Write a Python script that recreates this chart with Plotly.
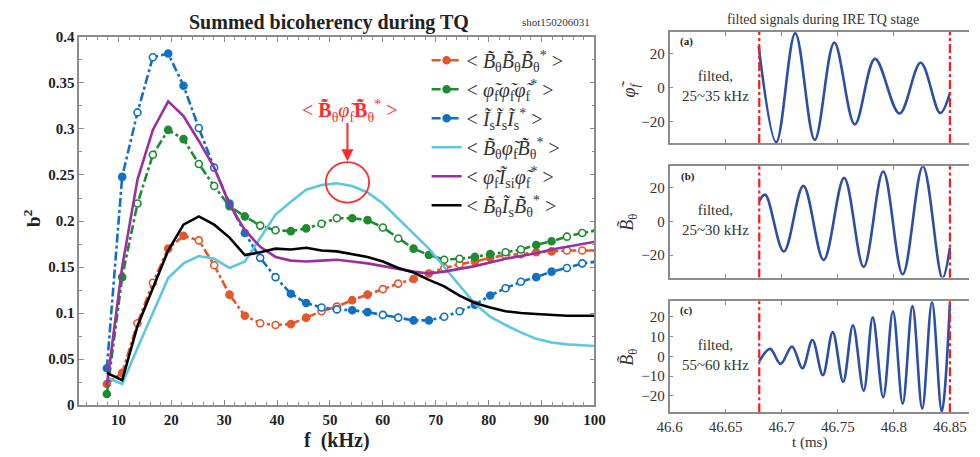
import plotly.graph_objects as go

# ---------------- data: summed bicoherency ----------------
freq = [7.8, 10.7, 13.6, 16.5, 19.4, 22.3, 25.2, 28.1, 31.0, 33.9, 36.8, 39.7, 42.6,
        45.5, 48.4, 51.3, 54.2, 57.1, 60.0, 62.9, 65.8, 68.7, 71.6, 74.5, 77.4,
        80.3, 83.2, 86.1, 89.0, 91.9, 94.8, 97.7, 100.6]
b_BBB = [0.023, 0.035, 0.089, 0.133, 0.170, 0.184, 0.179, 0.152, 0.120, 0.097, 0.089,
         0.087, 0.088, 0.095, 0.102, 0.107, 0.114, 0.120, 0.126, 0.132, 0.137, 0.143,
         0.149, 0.153, 0.156, 0.160, 0.163, 0.164, 0.166, 0.167, 0.168, 0.168, 0.168]
b_PPP = [0.012, 0.139, 0.219, 0.272, 0.299, 0.289, 0.262, 0.238, 0.216, 0.205, 0.195,
         0.190, 0.189, 0.192, 0.197, 0.203, 0.203, 0.201, 0.193, 0.181, 0.170, 0.163,
         0.158, 0.159, 0.161, 0.164, 0.166, 0.169, 0.174, 0.178, 0.183, 0.187, 0.190]
b_III = [0.040, 0.248, 0.318, 0.378, 0.382, 0.347, 0.301, 0.258, 0.219, 0.187, 0.160,
         0.139, 0.121, 0.111, 0.106, 0.104, 0.103, 0.101, 0.098, 0.095, 0.092, 0.092,
         0.096, 0.102, 0.109, 0.119, 0.127, 0.134, 0.139, 0.145, 0.149, 0.154, 0.156]
b_BPB = [0.030, 0.023, 0.062, 0.100, 0.138, 0.154, 0.162, 0.159, 0.149, 0.156, 0.182,
         0.207, 0.221, 0.234, 0.239, 0.241, 0.238, 0.231, 0.219, 0.203, 0.187, 0.170,
         0.150, 0.130, 0.110, 0.096, 0.087, 0.079, 0.072, 0.068, 0.066, 0.065, 0.064]
b_PIP = [0.021, 0.150, 0.245, 0.299, 0.330, 0.314, 0.287, 0.258, 0.218, 0.190, 0.172,
         0.161, 0.157, 0.156, 0.157, 0.158, 0.156, 0.154, 0.151, 0.148, 0.145, 0.143,
         0.145, 0.148, 0.151, 0.155, 0.159, 0.162, 0.165, 0.169, 0.172, 0.175, 0.178]
b_BIB = [0.035, 0.027, 0.086, 0.128, 0.168, 0.196, 0.205, 0.196, 0.182, 0.163, 0.166,
         0.170, 0.169, 0.171, 0.168, 0.167, 0.164, 0.161, 0.156, 0.149, 0.144, 0.136,
         0.129, 0.119, 0.111, 0.106, 0.102, 0.100, 0.099, 0.098, 0.097, 0.097, 0.097]

BD = "B\u0303\u0307"   # B with tilde and dot
PH = "\u03c6\u0303"    # phi tilde
IT = "I\u0303"         # I tilde
names = [
    f"< <i>{BD}</i><sub>θ</sub><i>{BD}</i><sub>θ</sub><i>{BD}</i><sub>θ</sub><sup>*</sup> >",
    f"< <i>{PH}</i><sub>f</sub><i>{PH}</i><sub>f</sub><i>{PH}</i><sub>f</sub><sup>*</sup> >",
    f"< <i>{IT}</i><sub>s</sub><i>{IT}</i><sub>s</sub><i>{IT}</i><sub>s</sub><sup>*</sup> >",
    f"< <i>{BD}</i><sub>θ</sub><i>{PH}</i><sub>f</sub><i>{BD}</i><sub>θ</sub><sup>*</sup> >",
    f"< <i>{PH}</i><sub>f</sub><i>{IT}</i><sub>si</sub><i>{PH}</i><sub>f</sub><sup>*</sup> >",
    f"< <i>{BD}</i><sub>θ</sub><i>{IT}</i><sub>s</sub><i>{BD}</i><sub>θ</sub><sup>*</sup> >",
]

# ---------------- data: filtered signals ----------------
tq_lines = [46.68, 46.85]
a_t = [46.6795, 46.6952, 46.7121, 46.7295, 46.7469, 46.7652, 46.7832, 46.8050, 46.8239, 46.8413, 46.8500]
a_v = [24.5, -32.0, 32.1, -30.6, 26.5, -21.5, 17.0, -15.1, 14.7, -14.9, -3.2]
b_t = [46.6800, 46.6853, 46.7019, 46.7193, 46.7374, 46.7557, 46.7731, 46.7905, 46.8079, 46.8259, 46.8433, 46.8500]
b_v = [12.0, 15.8, -17.9, 21.0, -22.9, 25.7, -27.0, 29.5, -31.4, 32.6, -33.7, -15.6]
c_t = [46.6800, 46.6897, 46.6990, 46.7092, 46.7185, 46.7274, 46.7367, 46.7455, 46.7548, 46.7635,
       46.7731, 46.7812, 46.7905, 46.7992, 46.8079, 46.8166, 46.8253, 46.8340, 46.8427, 46.8500]
c_v = [-2.5, 3.8, -3.8, 5.0, -6.0, 8.3, -9.6, 12.3, -12.9, 15.7, -17.5, 19.8, -20.7, 22.9,
       -24.0, 25.5, -26.5, 27.5, -28.0, 27.0]

SERIF = "Liberation Serif"
W, H = 980, 457

fig = go.Figure()

def mcolors(col, n):
    return [col if (i // 2) % 2 == 0 else "white" for i in range(n)]

marker_series = [(b_BBB, "#E2572B", names[0]), (b_PPP, "#1E8A32", names[1]), (b_III, "#1170C4", names[2])]
for vals, col, nm in marker_series:
    fig.add_trace(go.Scatter(
        x=freq, y=vals, name=nm, mode="lines+markers",
        line=dict(color=col, width=2.6, dash="dashdot"),
        marker=dict(size=7, color=mcolors(col, len(freq)), line=dict(color=col, width=1.6)),
        xaxis="x", yaxis="y"))

line_series = [(b_BPB, "#5CC7DE", names[3]), (b_PIP, "#9A2F9E", names[4]), (b_BIB, "#000000", names[5])]
for vals, col, nm in line_series:
    fig.add_trace(go.Scatter(
        x=freq, y=vals, name=nm, mode="lines",
        line=dict(color=col, width=2.6),
        xaxis="x", yaxis="y"))

wave_col = "#2D4EA6"
for t, v, xa, ya in [(a_t, a_v, "x2", "y2"), (b_t, b_v, "x3", "y3"), (c_t, c_v, "x4", "y4")]:
    fig.add_trace(go.Scatter(x=t, y=v, mode="lines", showlegend=False,
                             line=dict(color=wave_col, width=2.6, shape="spline", smoothing=1.0),
                             xaxis=xa, yaxis=ya))

def px2x(p):
    return p / W

def py2y(p):
    return 1 - p / H

frame = "#8c8c8c"
tickfont_left = dict(family=SERIF, size=15, color="#222", weight="bold")
layout = dict(
    width=W, height=H, margin=dict(l=0, r=0, t=0, b=0),
    paper_bgcolor="white", plot_bgcolor="white",
    showlegend=True,
    legend=dict(x=px2x(424), y=py2y(34), xanchor="left", yanchor="top",
                font=dict(family=SERIF, size=20, color="#333"),
                bgcolor="rgba(0,0,0,0)", itemwidth=30, tracegroupgap=0),
    xaxis=dict(domain=[px2x(68), px2x(596)], range=[2.6, 100], dtick=10, tick0=0,
               showline=True, linecolor=frame, linewidth=1.5, mirror="ticks",
               ticks="inside", ticklen=5, tickcolor=frame, showgrid=False, zeroline=False,
               tickfont=tickfont_left,
               minor=dict(dtick=2, ticks="inside", ticklen=3, tickcolor=frame),
               anchor="y"),
    yaxis=dict(domain=[py2y(411.5), py2y(30)], range=[0, 0.4], dtick=0.05, tick0=0,
               showline=True, linecolor=frame, linewidth=1.5, mirror="ticks",
               ticks="inside", ticklen=5, tickcolor=frame, showgrid=False, zeroline=False,
               tickfont=tickfont_left,
               minor=dict(dtick=0.025, ticks="inside", ticklen=3, tickcolor=frame),
               anchor="x"),
)

panels = [("x2", "y2", 25, 140, [-32.5, 32.7], 20, False),
          ("x3", "y3", 164, 279.3, [-33.3, 32.6], 20, False),
          ("x4", "y4", 304, 419, [-28.4, 27.9], 10, True)]
rfont = dict(family=SERIF, size=15, color="#333")
for xa, ya, top, bot, yr, dt, showx in panels:
    xk = "xaxis" + xa[1:]
    yk = "yaxis" + ya[1:]
    layout[xk] = dict(domain=[px2x(673), 1.0], range=[46.6, 46.867], dtick=0.05, tick0=46.6,
                      showline=True, linecolor=frame, linewidth=1.5, mirror="ticks",
                      ticks="inside", ticklen=4, tickcolor=frame, showgrid=False, zeroline=False,
                      showticklabels=showx, tickfont=rfont, anchor=ya)
    layout[yk] = dict(domain=[py2y(bot), py2y(top)], range=yr, dtick=dt, tick0=0,
                      showline=True, linecolor=frame, linewidth=1.5,
                      ticks="inside", ticklen=4, tickcolor=frame, showgrid=False, zeroline=False,
                      tickfont=rfont, anchor=xa)

fig.update_layout(**layout)

shapes = []
for xa, ya, *_ in panels:
    for tl in tq_lines:
        shapes.append(dict(type="line", xref=xa, yref=ya + " domain", x0=tl, x1=tl, y0=0, y1=1,
                           line=dict(color="#FF1A1A", width=2.2, dash="dashdot")))
# red circle highlighting the peak
shapes.append(dict(type="circle", xref="x", yref="y", x0=49.2, x1=57.4, y0=0.220, y1=0.264,
                   line=dict(color="#FF2A2A", width=1.8)))
fig.update_layout(shapes=shapes)

ann = []
def A(text, x, y, size, color="#222", bold=False, angle=0, xanchor="center", align="center", italic=False):
    t = text
    if italic:
        t = f"<i>{t}</i>"
    ann.append(dict(text=t, x=px2x(x), y=py2y(y), xref="paper", yref="paper", showarrow=False,
                    xanchor=xanchor, yanchor="middle", align=align, textangle=angle,
                    font=dict(family=SERIF, size=size, color=color, weight="bold" if bold else "normal")))

A("Summed bicoherency during TQ", 324, 15, 20, bold=True)
A("shot150206031", 557, 15, 11, color="#333")
A("f  (kHz)", 332, 448, 20, bold=True)
A("b<sup>2</sup>", 20, 218, 19, bold=True, angle=-90)
A("filted signals during IRE TQ stage", 830, 12, 14, color="#333")
A("t (ms)", 817, 450, 15, color="#333")
A("(a)", 690, 35, 11, bold=True)
A("(b)", 692, 175, 11, bold=True)
A("(c)", 690, 313, 11, bold=True)
A("filted,<br>25~35 kHz", 720, 81, 15, color="#333")
A("filted,<br>25~30 kHz", 720, 220, 15, color="#333")
A("filted,<br>55~60 kHz", 720, 360, 15, color="#333")
A(f"{PH}<sub>f</sub>", 633, 83, 18, color="#333", angle=-90, italic=True)
A(f"<i>B\u0303</i><sub>θ</sub>", 631, 222, 18, color="#333", angle=-90)
A(f"<i>B\u0303</i><sub>θ</sub>", 631, 362, 18, color="#333", angle=-90)
A(f"< <b>{BD}</b><sub>θ</sub><i>{PH}</i><sub>f</sub><b>{BD}</b><sub>θ</sub><sup>*</sup> >",
  345, 107, 20, color="#FF2A2A")
ann.append(dict(text="", x=53.3, y=0.265, xref="x", yref="y", ax=0, ay=-40, axref="pixel",
                showarrow=True, arrowhead=2, arrowsize=1.2, arrowwidth=2, arrowcolor="#FF2A2A"))
fig.update_layout(annotations=ann)

fig.write_html("out.html")
